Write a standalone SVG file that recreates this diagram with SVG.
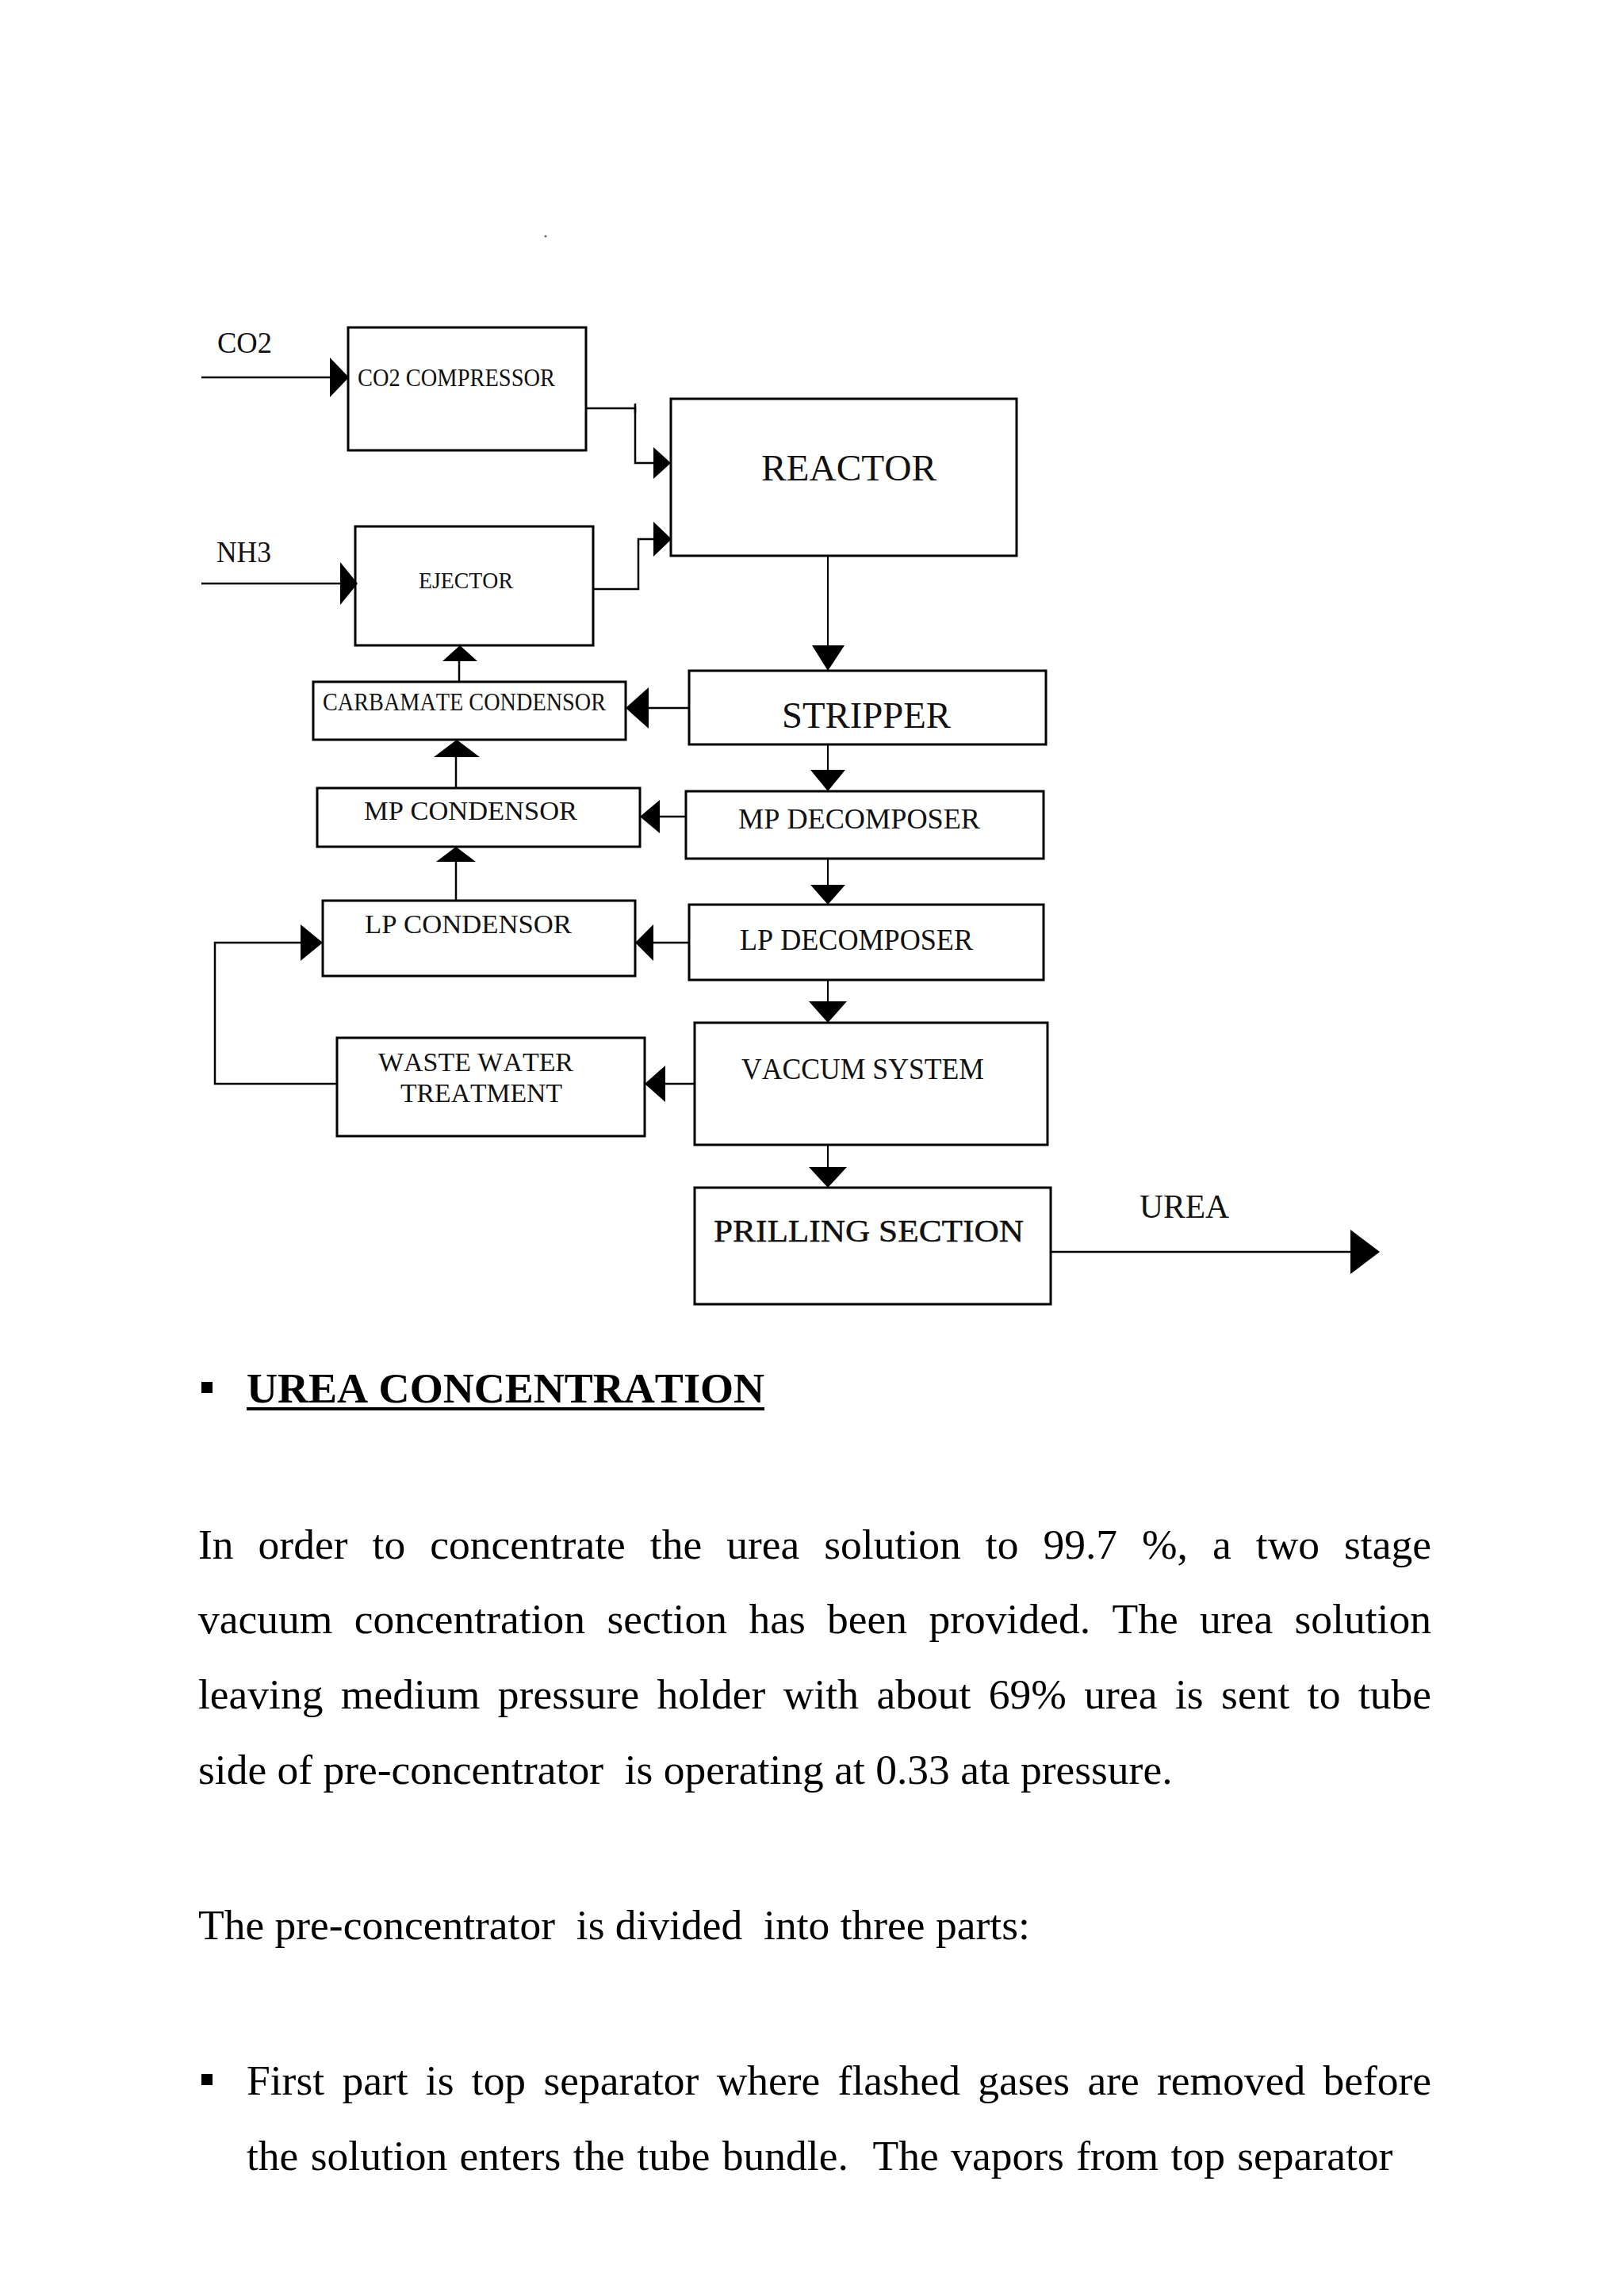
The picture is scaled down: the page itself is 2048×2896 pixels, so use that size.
<svg xmlns="http://www.w3.org/2000/svg" width="2048" height="2896" viewBox="0 0 2048 2896">
<style>
.box{fill:none;stroke:#000;stroke-width:3}
.ln{fill:none;stroke:#000;stroke-width:2.5}
.thin{fill:none;stroke:#000;stroke-width:2}
.ah{fill:#000}
.lbl{font-family:"Liberation Serif","Times New Roman",serif;fill:#111;font-kerning:none}
.body{font-family:"Liberation Serif","Times New Roman",serif;font-size:53.5px;fill:#000;font-kerning:none}
.head{font-family:"Liberation Serif","Times New Roman",serif;font-size:53.5px;font-weight:bold;fill:#000;font-kerning:none}
.prill{stroke:#000;stroke-width:0.4}
</style>
<rect width="2048" height="2896" fill="#fff"/>
<circle cx="688" cy="298" r="1.5" fill="#666"/>

<g id="label-co2"><text class="lbl" x="274" y="445" font-size="37" textLength="69" lengthAdjust="spacingAndGlyphs">CO2</text></g>
<g id="label-nh3"><text class="lbl" x="273" y="709" font-size="37" textLength="69" lengthAdjust="spacingAndGlyphs">NH3</text></g>
<g id="label-urea"><text class="lbl" x="1437" y="1536" font-size="42" textLength="113" lengthAdjust="spacingAndGlyphs">UREA</text></g>

<g id="co2-compressor"><rect class="box" x="439" y="413" width="300" height="155"/><text class="lbl" x="451" y="487" font-size="32" textLength="249" lengthAdjust="spacingAndGlyphs">CO2 COMPRESSOR</text></g>
<g id="reactor"><rect class="box" x="846" y="503" width="436" height="198"/><text class="lbl" x="960" y="606" font-size="46" textLength="221" lengthAdjust="spacingAndGlyphs">REACTOR</text></g>
<g id="ejector"><rect class="box" x="448" y="664" width="300" height="150"/><text class="lbl" x="528" y="742" font-size="30" textLength="119" lengthAdjust="spacingAndGlyphs">EJECTOR</text></g>
<g id="carbamate-condensor"><rect class="box" x="395" y="860" width="394" height="73"/><text class="lbl" x="407" y="896" font-size="31" textLength="357" lengthAdjust="spacingAndGlyphs">CARBAMATE CONDENSOR</text></g>
<g id="stripper"><rect class="box" x="869" y="846" width="450" height="93"/><text class="lbl" x="986" y="918" font-size="47" textLength="213" lengthAdjust="spacingAndGlyphs">STRIPPER</text></g>
<g id="mp-condensor"><rect class="box" x="400" y="994" width="407" height="74"/><text class="lbl" x="459" y="1034" font-size="34" textLength="269" lengthAdjust="spacingAndGlyphs">MP CONDENSOR</text></g>
<g id="mp-decomposer"><rect class="box" x="865" y="998" width="451" height="85"/><text class="lbl" x="931" y="1045" font-size="36" textLength="305" lengthAdjust="spacingAndGlyphs">MP DECOMPOSER</text></g>
<g id="lp-condensor"><rect class="box" x="407" y="1136" width="394" height="95"/><text class="lbl" x="460" y="1177" font-size="34" textLength="261" lengthAdjust="spacingAndGlyphs">LP CONDENSOR</text></g>
<g id="lp-decomposer"><rect class="box" x="869" y="1141" width="447" height="95"/><text class="lbl" x="933" y="1198" font-size="37" textLength="294" lengthAdjust="spacingAndGlyphs">LP DECOMPOSER</text></g>
<g id="waste-water-treatment"><rect class="box" x="425" y="1309" width="388" height="124"/><text class="lbl" x="477" y="1351" font-size="33" textLength="246" lengthAdjust="spacingAndGlyphs">WASTE WATER</text><text class="lbl" x="505" y="1390" font-size="33" textLength="204" lengthAdjust="spacingAndGlyphs">TREATMENT</text></g>
<g id="vaccum-system"><rect class="box" x="876" y="1290" width="445" height="154"/><text class="lbl" x="935" y="1361" font-size="37" textLength="306" lengthAdjust="spacingAndGlyphs">VACCUM SYSTEM</text></g>
<g id="prilling-section"><rect class="box" x="876" y="1498" width="449" height="147"/><text class="lbl prill" x="900" y="1566" font-size="41" textLength="391" lengthAdjust="spacingAndGlyphs">PRILLING SECTION</text></g>

<g id="connectors">
<path class="ln" d="M254 476H418"/>
<polygon class="ah" points="416,451 440,476 416,501"/>
<path class="ln" d="M254 736H431"/>
<polygon class="ah" points="429,709 451,736 429,763"/>
<path class="ln" d="M739 515H801V584H826"/>
<path class="ln" d="M801 509V521"/>
<polygon class="ah" points="824,564 846,584 824,604"/>
<path class="ln" d="M748 743H805V680H826"/>
<polygon class="ah" points="824,658 847,680 824,702"/>
<path class="thin" d="M1044 701V816"/>
<polygon class="ah" points="1024,814 1065,814 1044,846"/>
<path class="ln" d="M869 893H816"/>
<polygon class="ah" points="818,867 789,893 818,919"/>
<path class="thin" d="M1044 939V973"/>
<polygon class="ah" points="1022,971 1066,971 1044,998"/>
<path class="ln" d="M865 1030H830"/>
<polygon class="ah" points="832,1009 807,1030 832,1051"/>
<path class="thin" d="M1044 1083V1118"/>
<polygon class="ah" points="1022,1116 1066,1116 1044,1141"/>
<path class="ln" d="M869 1189H822"/>
<polygon class="ah" points="824,1166 801,1189 824,1212"/>
<path class="thin" d="M1044 1236V1265"/>
<polygon class="ah" points="1020,1263 1068,1263 1044,1290"/>
<path class="ln" d="M876 1367H837"/>
<polygon class="ah" points="839,1344 813,1367 839,1390"/>
<path class="thin" d="M1044 1444V1474"/>
<polygon class="ah" points="1020,1472 1068,1472 1044,1498"/>
<path class="ln" d="M425 1367H271V1189H381"/>
<polygon class="ah" points="379,1166 407,1189 379,1212"/>
<path class="ln" d="M575 1136V1085"/>
<polygon class="ah" points="550,1087 600,1087 575,1068"/>
<path class="ln" d="M575 994V953"/>
<polygon class="ah" points="547,955 605,955 576,933"/>
<path class="ln" d="M579 860V832"/>
<polygon class="ah" points="558,834 602,834 580,814"/>
<path class="ln" d="M1325 1579H1705"/>
<polygon class="ah" points="1703,1551 1740,1579 1703,1607"/>
</g>

<g id="text-section">
<rect x="254" y="1743" width="14" height="14" fill="#000"/>
<text class="head" x="311" y="1769" textLength="653" lengthAdjust="spacingAndGlyphs">UREA CONCENTRATION</text>
<rect x="311" y="1775" width="653" height="4" fill="#000"/>
<text class="body" x="250" y="1966" word-spacing="17.6" textLength="1555" lengthAdjust="spacing">In order to concentrate the urea solution to 99.7 %, a two stage</text>
<text class="body" x="250" y="2060" word-spacing="14" textLength="1555" lengthAdjust="spacing">vacuum concentration section has been provided. The urea solution</text>
<text class="body" x="250" y="2155" word-spacing="9.1" textLength="1555" lengthAdjust="spacing">leaving medium pressure holder with about 69% urea is sent to tube</text>
<text class="body" x="250" y="2250" xml:space="preserve">side of pre-concentrator  is operating at 0.33 ata pressure.</text>
<text class="body" x="250" y="2446" xml:space="preserve">The pre-concentrator  is divided  into three parts:</text>
<rect x="254" y="2616" width="14" height="14" fill="#000"/>
<text class="body" x="311" y="2642" word-spacing="8.9" textLength="1494" lengthAdjust="spacing">First part is top separator where flashed gases are removed before</text>
<text class="body" x="311" y="2737" xml:space="preserve" word-spacing="2">the solution enters the tube bundle.  The vapors from top separator</text>
</g>
</svg>
